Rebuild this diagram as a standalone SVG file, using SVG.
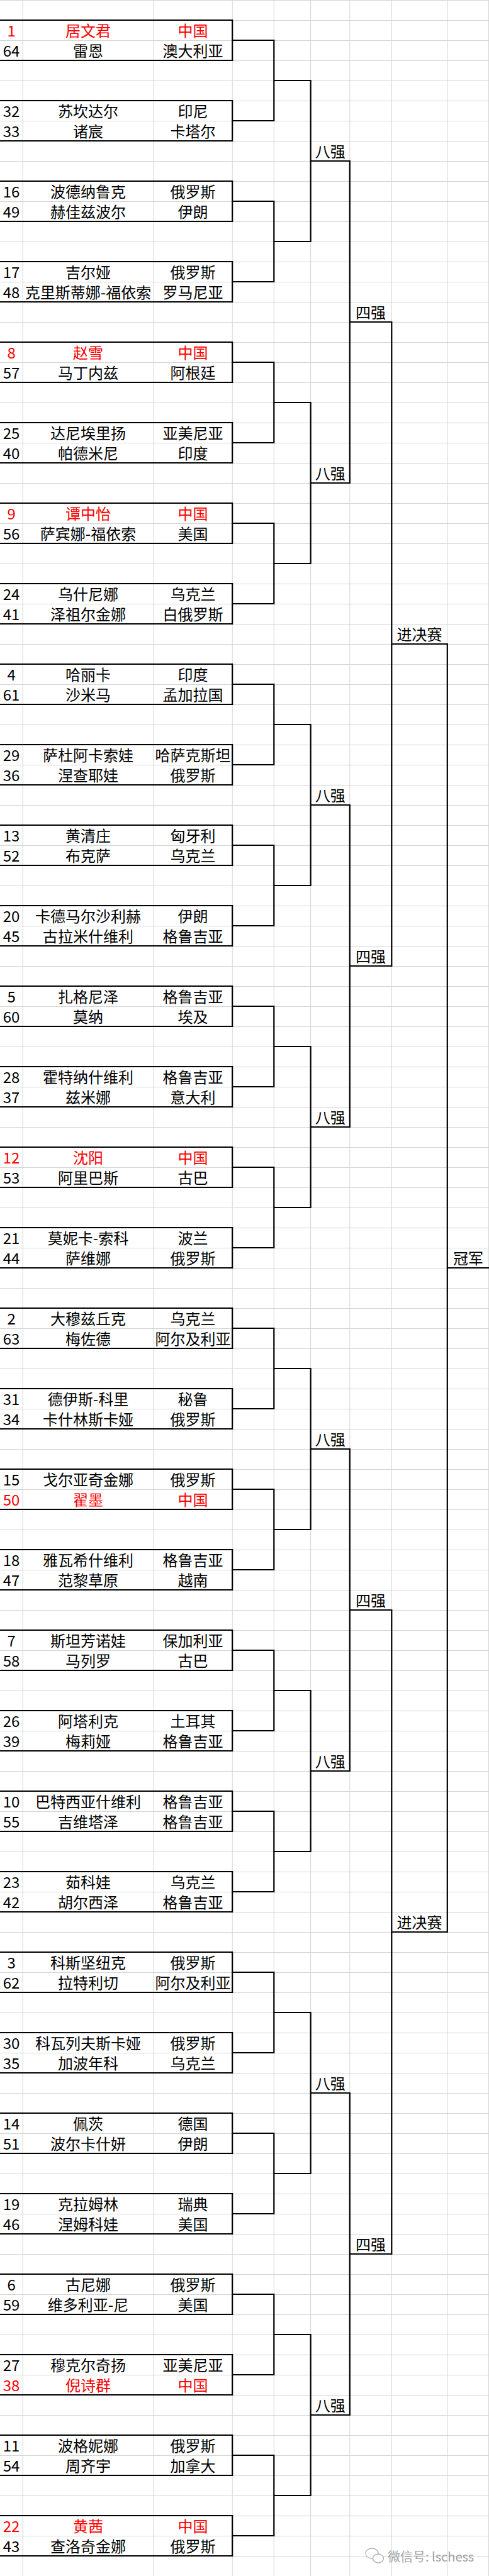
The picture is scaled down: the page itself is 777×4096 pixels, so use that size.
<svg xmlns="http://www.w3.org/2000/svg" width="777" height="4096" viewBox="0 0 777 4096">
<defs>
<pattern id="rows" width="777" height="32" patternUnits="userSpaceOnUse"><rect x="0" y="0" width="777" height="1" fill="#d4d4d4"/></pattern>
</defs>
<style>
text{font-family:"Noto Sans CJK SC","Noto Sans",sans-serif;font-size:24px;fill:#000;text-anchor:middle}
.r{fill:#ff0000}
.box{fill:none;stroke:#000;stroke-width:2.2}
#connectors path{fill:none;stroke:#000;stroke-width:2.2}
.gl{stroke:#d4d4d4;stroke-width:1}
.wm{fill:#a0a0a0;font-size:20px;text-anchor:start}
</style>
<rect x="0" y="0" width="777" height="4096" fill="#fff"/>
<g id="grid">
<rect x="0" y="0" width="777" height="4096" fill="url(#rows)"/>
<path class="gl" d="M36.2 0V4096M243.8 0V4096M369.2 0V4096M435.3 0V4096M493.6 0V4096M555.8 0V4096M622.3 0V4096M710.8 0V4096M776.5 0V4096"/>
</g>
<g id="connectors">
<path d="M369.2 64H435.3V192H369.2M369.2 320H435.3V448H369.2M369.2 576H435.3V704H369.2M369.2 832H435.3V960H369.2M369.2 1088H435.3V1216H369.2M369.2 1344H435.3V1472H369.2M369.2 1600H435.3V1728H369.2M369.2 1856H435.3V1984H369.2M369.2 2112H435.3V2240H369.2M369.2 2368H435.3V2496H369.2M369.2 2624H435.3V2752H369.2M369.2 2880H435.3V3008H369.2M369.2 3136H435.3V3264H369.2M369.2 3392H435.3V3520H369.2M369.2 3648H435.3V3776H369.2M369.2 3904H435.3V4032H369.2"/>
<path d="M435.3 128H493.6V384H435.3M435.3 640H493.6V896H435.3M435.3 1152H493.6V1408H435.3M435.3 1664H493.6V1920H435.3M435.3 2176H493.6V2432H435.3M435.3 2688H493.6V2944H435.3M435.3 3200H493.6V3456H435.3M435.3 3712H493.6V3968H435.3"/>
<path d="M493.6 256H555.8V768H493.6M493.6 1280H555.8V1792H493.6M493.6 2304H555.8V2816H493.6M493.6 3328H555.8V3840H493.6"/>
<path d="M555.8 512H622.3V1536H555.8M555.8 2560H622.3V3584H555.8"/>
<path d="M622.3 1024H710.8V3072H622.3"/>
<path d="M710.8 2016H777"/>
<g id="round-labels">
<text x="524.7" y="250">八强</text>
<text x="524.7" y="762">八强</text>
<text x="524.7" y="1274">八强</text>
<text x="524.7" y="1786">八强</text>
<text x="524.7" y="2298">八强</text>
<text x="524.7" y="2810">八强</text>
<text x="524.7" y="3322">八强</text>
<text x="524.7" y="3834">八强</text>
<text x="589" y="506">四强</text>
<text x="589" y="1530">四强</text>
<text x="589" y="2554">四强</text>
<text x="589" y="3578">四强</text>
<text x="666.5" y="1018">进决赛</text>
<text x="666.5" y="3066">进决赛</text>
<text x="743.9" y="2010">冠军</text>
</g>
</g>
<g id="m1" transform="translate(0,32)"><path class="box" d="M0 0H369.2V64H0"/><text x="18.1" y="26" class="r">1</text><text x="140" y="26" class="r">居文君</text><text x="306.5" y="26" class="r">中国</text><text x="18.1" y="58">64</text><text x="140" y="58">雷恩</text><text x="306.5" y="58">澳大利亚</text></g>
<g id="m2" transform="translate(0,160)"><path class="box" d="M0 0H369.2V64H0"/><text x="18.1" y="26">32</text><text x="140" y="26">苏坎达尔</text><text x="306.5" y="26">印尼</text><text x="18.1" y="58">33</text><text x="140" y="58">诸宸</text><text x="306.5" y="58">卡塔尔</text></g>
<g id="m3" transform="translate(0,288)"><path class="box" d="M0 0H369.2V64H0"/><text x="18.1" y="26">16</text><text x="140" y="26">波德纳鲁克</text><text x="306.5" y="26">俄罗斯</text><text x="18.1" y="58">49</text><text x="140" y="58">赫佳兹波尔</text><text x="306.5" y="58">伊朗</text></g>
<g id="m4" transform="translate(0,416)"><path class="box" d="M0 0H369.2V64H0"/><text x="18.1" y="26">17</text><text x="140" y="26">吉尔娅</text><text x="306.5" y="26">俄罗斯</text><text x="18.1" y="58">48</text><text x="140" y="58">克里斯蒂娜-福依索</text><text x="306.5" y="58">罗马尼亚</text></g>
<g id="m5" transform="translate(0,544)"><path class="box" d="M0 0H369.2V64H0"/><text x="18.1" y="26" class="r">8</text><text x="140" y="26" class="r">赵雪</text><text x="306.5" y="26" class="r">中国</text><text x="18.1" y="58">57</text><text x="140" y="58">马丁内兹</text><text x="306.5" y="58">阿根廷</text></g>
<g id="m6" transform="translate(0,672)"><path class="box" d="M0 0H369.2V64H0"/><text x="18.1" y="26">25</text><text x="140" y="26">达尼埃里扬</text><text x="306.5" y="26">亚美尼亚</text><text x="18.1" y="58">40</text><text x="140" y="58">帕德米尼</text><text x="306.5" y="58">印度</text></g>
<g id="m7" transform="translate(0,800)"><path class="box" d="M0 0H369.2V64H0"/><text x="18.1" y="26" class="r">9</text><text x="140" y="26" class="r">谭中怡</text><text x="306.5" y="26" class="r">中国</text><text x="18.1" y="58">56</text><text x="140" y="58">萨宾娜-福依索</text><text x="306.5" y="58">美国</text></g>
<g id="m8" transform="translate(0,928)"><path class="box" d="M0 0H369.2V64H0"/><text x="18.1" y="26">24</text><text x="140" y="26">乌什尼娜</text><text x="306.5" y="26">乌克兰</text><text x="18.1" y="58">41</text><text x="140" y="58">泽祖尔金娜</text><text x="306.5" y="58">白俄罗斯</text></g>
<g id="m9" transform="translate(0,1056)"><path class="box" d="M0 0H369.2V64H0"/><text x="18.1" y="26">4</text><text x="140" y="26">哈丽卡</text><text x="306.5" y="26">印度</text><text x="18.1" y="58">61</text><text x="140" y="58">沙米马</text><text x="306.5" y="58">孟加拉国</text></g>
<g id="m10" transform="translate(0,1184)"><path class="box" d="M0 0H369.2V64H0"/><text x="18.1" y="26">29</text><text x="140" y="26">萨杜阿卡索娃</text><text x="306.5" y="26">哈萨克斯坦</text><text x="18.1" y="58">36</text><text x="140" y="58">涅查耶娃</text><text x="306.5" y="58">俄罗斯</text></g>
<g id="m11" transform="translate(0,1312)"><path class="box" d="M0 0H369.2V64H0"/><text x="18.1" y="26">13</text><text x="140" y="26">黄清庄</text><text x="306.5" y="26">匈牙利</text><text x="18.1" y="58">52</text><text x="140" y="58">布克萨</text><text x="306.5" y="58">乌克兰</text></g>
<g id="m12" transform="translate(0,1440)"><path class="box" d="M0 0H369.2V64H0"/><text x="18.1" y="26">20</text><text x="140" y="26">卡德马尔沙利赫</text><text x="306.5" y="26">伊朗</text><text x="18.1" y="58">45</text><text x="140" y="58">古拉米什维利</text><text x="306.5" y="58">格鲁吉亚</text></g>
<g id="m13" transform="translate(0,1568)"><path class="box" d="M0 0H369.2V64H0"/><text x="18.1" y="26">5</text><text x="140" y="26">扎格尼泽</text><text x="306.5" y="26">格鲁吉亚</text><text x="18.1" y="58">60</text><text x="140" y="58">莫纳</text><text x="306.5" y="58">埃及</text></g>
<g id="m14" transform="translate(0,1696)"><path class="box" d="M0 0H369.2V64H0"/><text x="18.1" y="26">28</text><text x="140" y="26">霍特纳什维利</text><text x="306.5" y="26">格鲁吉亚</text><text x="18.1" y="58">37</text><text x="140" y="58">兹米娜</text><text x="306.5" y="58">意大利</text></g>
<g id="m15" transform="translate(0,1824)"><path class="box" d="M0 0H369.2V64H0"/><text x="18.1" y="26" class="r">12</text><text x="140" y="26" class="r">沈阳</text><text x="306.5" y="26" class="r">中国</text><text x="18.1" y="58">53</text><text x="140" y="58">阿里巴斯</text><text x="306.5" y="58">古巴</text></g>
<g id="m16" transform="translate(0,1952)"><path class="box" d="M0 0H369.2V64H0"/><text x="18.1" y="26">21</text><text x="140" y="26">莫妮卡-索科</text><text x="306.5" y="26">波兰</text><text x="18.1" y="58">44</text><text x="140" y="58">萨维娜</text><text x="306.5" y="58">俄罗斯</text></g>
<g id="m17" transform="translate(0,2080)"><path class="box" d="M0 0H369.2V64H0"/><text x="18.1" y="26">2</text><text x="140" y="26">大穆兹丘克</text><text x="306.5" y="26">乌克兰</text><text x="18.1" y="58">63</text><text x="140" y="58">梅佐德</text><text x="306.5" y="58">阿尔及利亚</text></g>
<g id="m18" transform="translate(0,2208)"><path class="box" d="M0 0H369.2V64H0"/><text x="18.1" y="26">31</text><text x="140" y="26">德伊斯-科里</text><text x="306.5" y="26">秘鲁</text><text x="18.1" y="58">34</text><text x="140" y="58">卡什林斯卡娅</text><text x="306.5" y="58">俄罗斯</text></g>
<g id="m19" transform="translate(0,2336)"><path class="box" d="M0 0H369.2V64H0"/><text x="18.1" y="26">15</text><text x="140" y="26">戈尔亚奇金娜</text><text x="306.5" y="26">俄罗斯</text><text x="18.1" y="58" class="r">50</text><text x="140" y="58" class="r">翟墨</text><text x="306.5" y="58" class="r">中国</text></g>
<g id="m20" transform="translate(0,2464)"><path class="box" d="M0 0H369.2V64H0"/><text x="18.1" y="26">18</text><text x="140" y="26">雅瓦希什维利</text><text x="306.5" y="26">格鲁吉亚</text><text x="18.1" y="58">47</text><text x="140" y="58">范黎草原</text><text x="306.5" y="58">越南</text></g>
<g id="m21" transform="translate(0,2592)"><path class="box" d="M0 0H369.2V64H0"/><text x="18.1" y="26">7</text><text x="140" y="26">斯坦芳诺娃</text><text x="306.5" y="26">保加利亚</text><text x="18.1" y="58">58</text><text x="140" y="58">马列罗</text><text x="306.5" y="58">古巴</text></g>
<g id="m22" transform="translate(0,2720)"><path class="box" d="M0 0H369.2V64H0"/><text x="18.1" y="26">26</text><text x="140" y="26">阿塔利克</text><text x="306.5" y="26">土耳其</text><text x="18.1" y="58">39</text><text x="140" y="58">梅莉娅</text><text x="306.5" y="58">格鲁吉亚</text></g>
<g id="m23" transform="translate(0,2848)"><path class="box" d="M0 0H369.2V64H0"/><text x="18.1" y="26">10</text><text x="140" y="26">巴特西亚什维利</text><text x="306.5" y="26">格鲁吉亚</text><text x="18.1" y="58">55</text><text x="140" y="58">吉维塔泽</text><text x="306.5" y="58">格鲁吉亚</text></g>
<g id="m24" transform="translate(0,2976)"><path class="box" d="M0 0H369.2V64H0"/><text x="18.1" y="26">23</text><text x="140" y="26">茹科娃</text><text x="306.5" y="26">乌克兰</text><text x="18.1" y="58">42</text><text x="140" y="58">胡尔西泽</text><text x="306.5" y="58">格鲁吉亚</text></g>
<g id="m25" transform="translate(0,3104)"><path class="box" d="M0 0H369.2V64H0"/><text x="18.1" y="26">3</text><text x="140" y="26">科斯坚纽克</text><text x="306.5" y="26">俄罗斯</text><text x="18.1" y="58">62</text><text x="140" y="58">拉特利切</text><text x="306.5" y="58">阿尔及利亚</text></g>
<g id="m26" transform="translate(0,3232)"><path class="box" d="M0 0H369.2V64H0"/><text x="18.1" y="26">30</text><text x="140" y="26">科瓦列夫斯卡娅</text><text x="306.5" y="26">俄罗斯</text><text x="18.1" y="58">35</text><text x="140" y="58">加波年科</text><text x="306.5" y="58">乌克兰</text></g>
<g id="m27" transform="translate(0,3360)"><path class="box" d="M0 0H369.2V64H0"/><text x="18.1" y="26">14</text><text x="140" y="26">佩茨</text><text x="306.5" y="26">德国</text><text x="18.1" y="58">51</text><text x="140" y="58">波尔卡什妍</text><text x="306.5" y="58">伊朗</text></g>
<g id="m28" transform="translate(0,3488)"><path class="box" d="M0 0H369.2V64H0"/><text x="18.1" y="26">19</text><text x="140" y="26">克拉姆林</text><text x="306.5" y="26">瑞典</text><text x="18.1" y="58">46</text><text x="140" y="58">涅姆科娃</text><text x="306.5" y="58">美国</text></g>
<g id="m29" transform="translate(0,3616)"><path class="box" d="M0 0H369.2V64H0"/><text x="18.1" y="26">6</text><text x="140" y="26">古尼娜</text><text x="306.5" y="26">俄罗斯</text><text x="18.1" y="58">59</text><text x="140" y="58">维多利亚-尼</text><text x="306.5" y="58">美国</text></g>
<g id="m30" transform="translate(0,3744)"><path class="box" d="M0 0H369.2V64H0"/><text x="18.1" y="26">27</text><text x="140" y="26">穆克尔奇扬</text><text x="306.5" y="26">亚美尼亚</text><text x="18.1" y="58" class="r">38</text><text x="140" y="58" class="r">倪诗群</text><text x="306.5" y="58" class="r">中国</text></g>
<g id="m31" transform="translate(0,3872)"><path class="box" d="M0 0H369.2V64H0"/><text x="18.1" y="26">11</text><text x="140" y="26">波格妮娜</text><text x="306.5" y="26">俄罗斯</text><text x="18.1" y="58">54</text><text x="140" y="58">周齐宇</text><text x="306.5" y="58">加拿大</text></g>
<g id="m32" transform="translate(0,4000)"><path class="box" d="M0 0H369.2V64H0"/><text x="18.1" y="26" class="r">22</text><text x="140" y="26" class="r">黄茜</text><text x="306.5" y="26" class="r">中国</text><text x="18.1" y="58">43</text><text x="140" y="58">查洛奇金娜</text><text x="306.5" y="58">俄罗斯</text></g>
<g id="watermark">
<ellipse cx="591" cy="4060" rx="10" ry="8" fill="#fff" stroke="#b0b0b0" stroke-width="1.3"/>
<ellipse cx="601" cy="4068" rx="8.5" ry="7" fill="#fff" stroke="#b0b0b0" stroke-width="1.3"/>
<text class="wm" x="616" y="4073">微信号: lschess</text>
</g>
</svg>
